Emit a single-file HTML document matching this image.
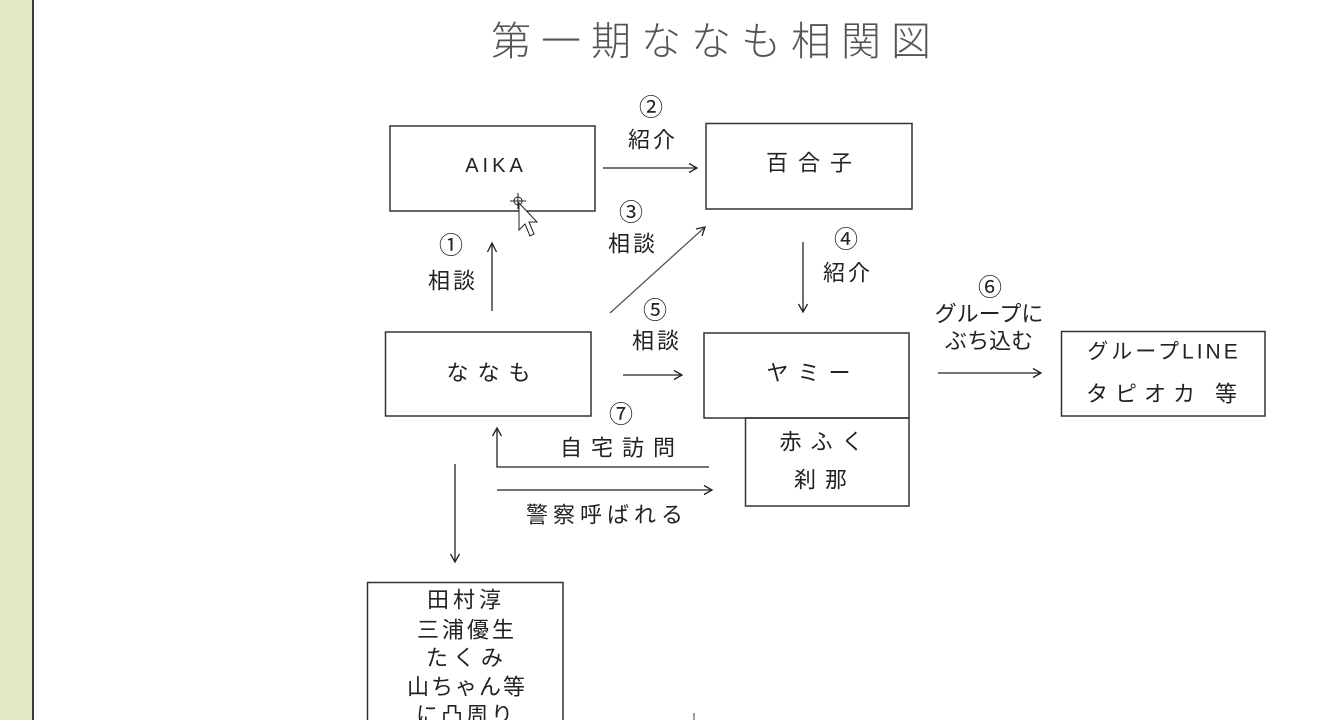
<!DOCTYPE html>
<html><head><meta charset="utf-8"><style>
html,body{margin:0;padding:0;background:#fff;}
body{width:1339px;height:720px;overflow:hidden;position:relative;}
svg{position:absolute;left:0;top:0;}
text{font-family:"Liberation Sans","Noto Sans CJK JP",sans-serif;fill:#222;}
</style></head><body>
<svg width="1339" height="720" viewBox="0 0 1339 720" xmlns="http://www.w3.org/2000/svg">
<rect x="0" y="0" width="32" height="720" fill="#e5e8c4"/>
<rect x="32" y="0" width="2" height="720" fill="#3a3a3a"/>

<!-- title -->
<text x="716" y="42" font-size="40" letter-spacing="10" text-anchor="middle" dominant-baseline="central" style="fill:#555;font-weight:300">第一期ななも相関図</text>

<g fill="none" stroke="#333" stroke-width="1.5">
<rect x="390" y="126" width="205" height="85"/>
<rect x="706" y="123.5" width="206" height="85.5"/>
<rect x="385.5" y="332" width="205.5" height="84"/>
<rect x="704" y="333" width="205" height="85"/>
<rect x="745.5" y="418" width="163.5" height="88"/>
<rect x="1061.5" y="331.5" width="203.5" height="84.5"/>
<rect x="367.5" y="582.5" width="195.5" height="150"/>
</g>

<!-- box texts -->
<g font-size="22" text-anchor="middle" dominant-baseline="central">
<text x="496" y="166" font-size="20" letter-spacing="4">AIKA</text>
<text x="814" y="163" letter-spacing="10">百合子</text>
<text x="493" y="373" letter-spacing="9">ななも</text>
<text x="813" y="373" letter-spacing="9">ヤミー</text>
<text x="826" y="442" letter-spacing="9">赤ふく</text>
<text x="825" y="480" letter-spacing="9">刹那</text>
<text x="1164" y="352" font-size="21" letter-spacing="3">グループLINE</text>
<text x="1165" y="394" letter-spacing="7">タピオカ 等</text>
<text x="466" y="600" letter-spacing="4">田村淳</text>
<text x="467" y="630" letter-spacing="3">三浦優生</text>
<text x="467" y="658" letter-spacing="5">たくみ</text>
<text x="467" y="687" letter-spacing="2">山ちゃん等</text>
<text x="466" y="715" letter-spacing="3">に凸周り</text>
</g>

<!-- labels -->
<g font-size="22" text-anchor="middle" dominant-baseline="central">
<text x="651" y="108" font-size="24">②</text>
<text x="653" y="140" letter-spacing="3">紹介</text>
<text x="451" y="246" font-size="24">①</text>
<text x="453" y="281" letter-spacing="3">相談</text>
<text x="631" y="213" font-size="24">③</text>
<text x="633" y="244" letter-spacing="3">相談</text>
<text x="846" y="240" font-size="24">④</text>
<text x="848" y="273" letter-spacing="3">紹介</text>
<text x="655" y="311" font-size="24">⑤</text>
<text x="657" y="341" letter-spacing="3">相談</text>
<text x="621" y="415" font-size="24">⑦</text>
<text x="622" y="448" font-size="22" letter-spacing="9">自宅訪問</text>
<text x="607" y="515" font-size="22" letter-spacing="5">警察呼ばれる</text>
<text x="990" y="288" font-size="24">⑥</text>
<text x="989" y="314" font-size="22">グループに</text>
<text x="989" y="341" font-size="22">ぶち込む</text>
</g>

<!-- connectors -->
<g fill="none" stroke="#222" stroke-width="1.3">
<line x1="492" y1="311" x2="492" y2="243"/>
<path d="M487.5,252 L492,243 L496.5,252"/>
<line x1="603" y1="168" x2="697" y2="168"/>
<path d="M689,163.5 L697,168 L689,172.5"/>
<line x1="610" y1="313" x2="705" y2="227" stroke="#555"/>
<path d="M696,229 L705,227 L702,236"/>
<line x1="803" y1="242" x2="803" y2="312"/>
<path d="M798.5,304 L803,312 L807.5,304"/>
<line x1="623" y1="375" x2="682" y2="375"/>
<path d="M674,370.5 L682,375 L674,379.5"/>
<path d="M709,467 L497,467 L497,428"/>
<path d="M492.5,436 L497,428 L501.5,436"/>
<line x1="497" y1="490" x2="712" y2="490"/>
<path d="M704,485.5 L712,490 L704,494.5"/>
<line x1="938" y1="373" x2="1041" y2="373"/>
<path d="M1033,368.5 L1041,373 L1033,377.5"/>
<line x1="455" y1="464" x2="455" y2="562"/>
<path d="M450.5,554 L455,562 L459.5,554"/>
<line x1="694" y1="713" x2="694" y2="720" stroke="#666"/>
</g>

<!-- cursor -->
<g stroke="#222" stroke-width="1" fill="#fff">
<circle cx="518" cy="201" r="4" fill="none"/>
<line x1="510" y1="201" x2="526" y2="201"/>
<line x1="518" y1="193" x2="518" y2="209"/>
<path d="M519,203 L519,230 L525,224 L530,236 L534,234 L529,222 L537,222 Z"/>
</g>
</svg>
</body></html>
